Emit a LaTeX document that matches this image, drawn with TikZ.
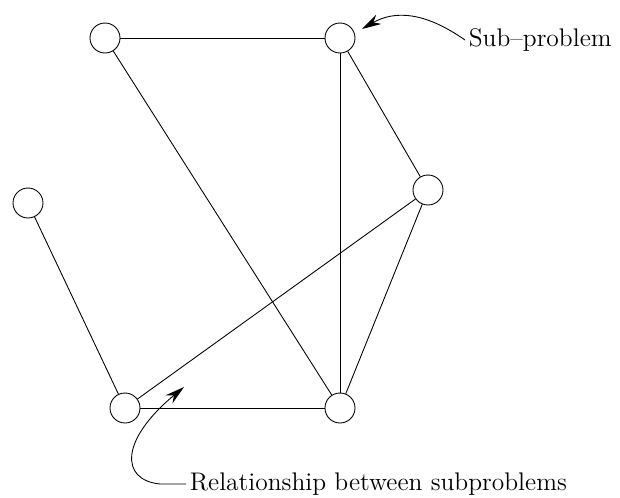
\documentclass[tikz,border=0pt]{standalone}
\usetikzlibrary{arrows.meta}

\tikzset{
  sub/.style={draw, circle, minimum size=0.6cm, inner sep=0pt, line width=0.5pt},
  rel/.style={line width=0.5pt},
  note/.style={-{Stealth[length=11pt, width=6pt]}, line width=0.5pt},
  lbl/.style={font=\fontsize{14.5}{17}\selectfont, inner sep=2pt}
}

\begin{document}
\begin{tikzpicture}[x=0.02cm, y=-0.02cm]

     \useasboundingbox (0,0) rectangle (620,498);

     % subproblems
     \node[sub] (a) at (105,38) {};
     \node[sub] (b) at (340,38) {};
     \node[sub] (c) at (428,190) {};
     \node[sub] (d) at (28,203) {};
     \node[sub] (e) at (125,408) {};
     \node[sub] (f) at (340,408) {};

     % relationships
     \draw[rel] (a) -- (b);
     \draw[rel] (a) -- (f);
     \draw[rel] (b) -- (f);
     \draw[rel] (b) -- (c);
     \draw[rel] (c) -- (f);
     \draw[rel] (c) -- (e);
     \draw[rel] (d) -- (e);
     \draw[rel] (e) -- (f);

     % labels
     \node[lbl, anchor=west] (sp) at (465,40) {Sub--problem};
     \draw[note] (sp.west) .. controls (425,12) and (395,10) .. (362,29);

     \node[lbl, anchor=west] (rs) at (186,484) {Relationship between subproblems};
     \draw[note] (rs.west) -- (160,484) .. controls (120,480) and (120,440) .. (184,387);

\end{tikzpicture}
\end{document}
